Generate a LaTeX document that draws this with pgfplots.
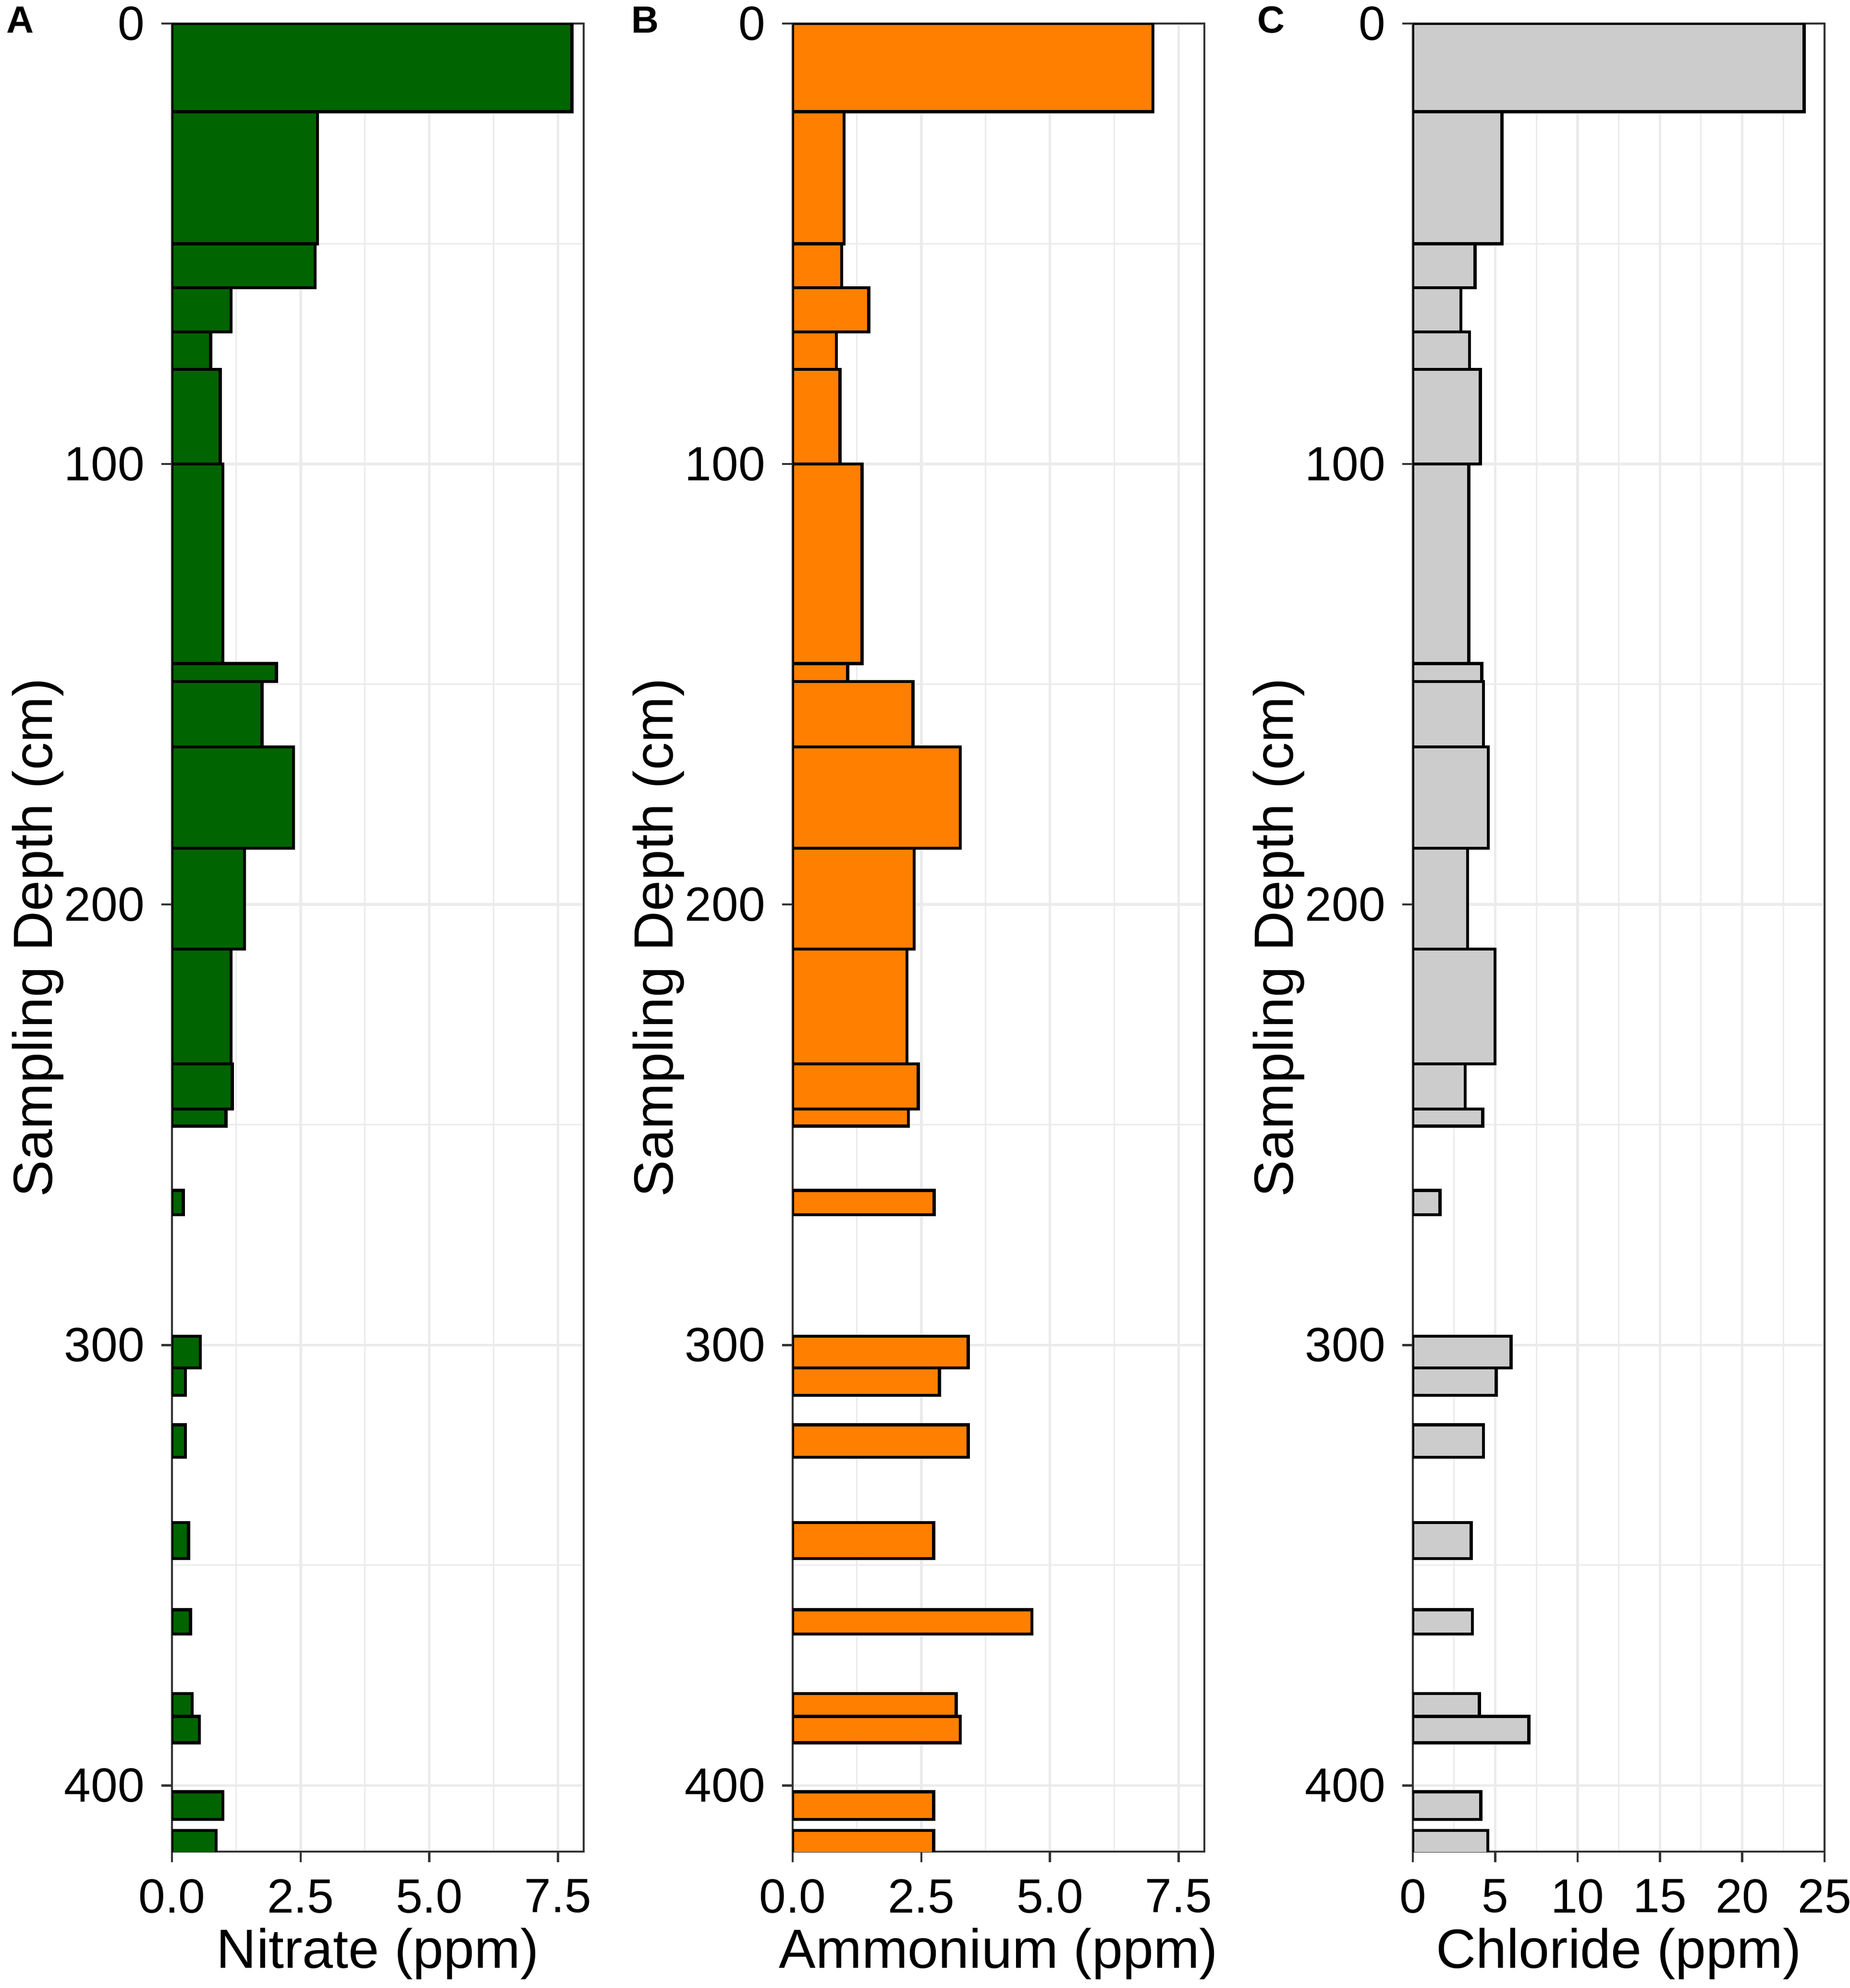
\documentclass[border=0pt]{standalone}
\usepackage{pgfplots}
\pgfplotsset{compat=1.18}
\usepackage{fontspec}
\setmainfont{Liberation Sans}
\definecolor{nitfill}{HTML}{006400}
\definecolor{ammfill}{HTML}{FF7F00}
\definecolor{chlfill}{HTML}{CCCCCC}
\definecolor{gridc}{HTML}{EBEBEB}
\definecolor{framec}{HTML}{333333}

\pgfplotsset{
  depthaxis/.style={
    scale only axis, width=85.7pt, height=380.6pt,
    anchor=south west,
    y dir=reverse, ymin=0, ymax=415, xmin=0,
    ytick={0,100,200,300,400}, minor ytick={50,150,250,350},
    grid=both,
    major grid style={gridc, line width=0.55pt},
    minor grid style={gridc, line width=0.3pt},
    axis line style={framec, line width=0.45pt},
    tick align=outside, major tick length=2.2pt, minor tick length=0pt,
    major tick style={framec, line width=0.45pt},
    xtick pos=bottom, ytick pos=left,
    tick label style={font=\fontsize{10}{12}\selectfont, text=black},
    /pgf/number format/assume math mode=true,
    label style={font=\fontsize{11.5}{13.5}\selectfont},
    ylabel={Sampling Depth (cm)},
    ylabel style={at={(axis description cs:-0.2917,0.5)}, anchor=base},
    xlabel style={at={(axis description cs:0.5,-0.0636)}, anchor=base},
    clip=true,
  },
  nbar/.style={fill=nitfill, draw=black, line width=0.65pt},
  abar/.style={fill=ammfill, draw=black, line width=0.65pt},
  cbar/.style={fill=chlfill, draw=black, line width=0.65pt},
}

\begin{document}
\begin{tikzpicture}
\useasboundingbox (0pt,0pt) rectangle (385pt,413.9pt);

\begin{axis}[depthaxis, at={(35.8pt,28.4pt)}, xmax=8,
  xtick={0,2.5,5,7.5}, xticklabels={0.0,2.5,5.0,7.5}, minor xtick={1.25,3.75,6.25},
  xlabel={Nitrate (ppm)}]
\addplot[nbar] coordinates {(0,0) (7.77,0) (7.77,20) (0,20)} --cycle;
\addplot[nbar] coordinates {(0,20) (2.83,20) (2.83,50) (0,50)} --cycle;
\addplot[nbar] coordinates {(0,50) (2.78,50) (2.78,60) (0,60)} --cycle;
\addplot[nbar] coordinates {(0,60) (1.15,60) (1.15,70) (0,70)} --cycle;
\addplot[nbar] coordinates {(0,70) (0.75,70) (0.75,78.5) (0,78.5)} --cycle;
\addplot[nbar] coordinates {(0,78.5) (0.94,78.5) (0.94,100) (0,100)} --cycle;
\addplot[nbar] coordinates {(0,100) (0.99,100) (0.99,145.3) (0,145.3)} --cycle;
\addplot[nbar] coordinates {(0,145.3) (2.03,145.3) (2.03,149.4) (0,149.4)} --cycle;
\addplot[nbar] coordinates {(0,149.4) (1.75,149.4) (1.75,164.2) (0,164.2)} --cycle;
\addplot[nbar] coordinates {(0,164.2) (2.36,164.2) (2.36,187.2) (0,187.2)} --cycle;
\addplot[nbar] coordinates {(0,187.2) (1.41,187.2) (1.41,210.1) (0,210.1)} --cycle;
\addplot[nbar] coordinates {(0,210.1) (1.15,210.1) (1.15,236.2) (0,236.2)} --cycle;
\addplot[nbar] coordinates {(0,236.2) (1.17,236.2) (1.17,246.4) (0,246.4)} --cycle;
\addplot[nbar] coordinates {(0,246.4) (1.05,246.4) (1.05,250.3) (0,250.3)} --cycle;
\addplot[nbar] coordinates {(0,264.9) (0.22,264.9) (0.22,270.4) (0,270.4)} --cycle;
\addplot[nbar] coordinates {(0,298.0) (0.55,298.0) (0.55,305.2) (0,305.2)} --cycle;
\addplot[nbar] coordinates {(0,305.2) (0.26,305.2) (0.26,311.4) (0,311.4)} --cycle;
\addplot[nbar] coordinates {(0,318.1) (0.26,318.1) (0.26,325.5) (0,325.5)} --cycle;
\addplot[nbar] coordinates {(0,340.3) (0.32,340.3) (0.32,348.5) (0,348.5)} --cycle;
\addplot[nbar] coordinates {(0,360.1) (0.36,360.1) (0.36,365.6) (0,365.6)} --cycle;
\addplot[nbar] coordinates {(0,379.1) (0.39,379.1) (0.39,384.3) (0,384.3)} --cycle;
\addplot[nbar] coordinates {(0,384.3) (0.53,384.3) (0.53,390.3) (0,390.3)} --cycle;
\addplot[nbar] coordinates {(0,401.4) (0.99,401.4) (0.99,407.7) (0,407.7)} --cycle;
\addplot[nbar] coordinates {(0,410.2) (0.86,410.2) (0.86,416) (0,416)} --cycle;
\end{axis}

\begin{axis}[depthaxis, at={(165.0pt,28.4pt)}, xmax=8,
  xtick={0,2.5,5,7.5}, xticklabels={0.0,2.5,5.0,7.5}, minor xtick={1.25,3.75,6.25},
  xlabel={Ammonium (ppm)}]
\addplot[abar] coordinates {(0,0) (7.00,0) (7.00,20) (0,20)} --cycle;
\addplot[abar] coordinates {(0,20) (1.00,20) (1.00,50) (0,50)} --cycle;
\addplot[abar] coordinates {(0,50) (0.95,50) (0.95,60) (0,60)} --cycle;
\addplot[abar] coordinates {(0,60) (1.48,60) (1.48,70) (0,70)} --cycle;
\addplot[abar] coordinates {(0,70) (0.85,70) (0.85,78.5) (0,78.5)} --cycle;
\addplot[abar] coordinates {(0,78.5) (0.92,78.5) (0.92,100) (0,100)} --cycle;
\addplot[abar] coordinates {(0,100) (1.35,100) (1.35,145.3) (0,145.3)} --cycle;
\addplot[abar] coordinates {(0,145.3) (1.07,145.3) (1.07,149.4) (0,149.4)} --cycle;
\addplot[abar] coordinates {(0,149.4) (2.34,149.4) (2.34,164.2) (0,164.2)} --cycle;
\addplot[abar] coordinates {(0,164.2) (3.26,164.2) (3.26,187.2) (0,187.2)} --cycle;
\addplot[abar] coordinates {(0,187.2) (2.36,187.2) (2.36,210.1) (0,210.1)} --cycle;
\addplot[abar] coordinates {(0,210.1) (2.22,210.1) (2.22,236.2) (0,236.2)} --cycle;
\addplot[abar] coordinates {(0,236.2) (2.44,236.2) (2.44,246.4) (0,246.4)} --cycle;
\addplot[abar] coordinates {(0,246.4) (2.25,246.4) (2.25,250.3) (0,250.3)} --cycle;
\addplot[abar] coordinates {(0,264.9) (2.75,264.9) (2.75,270.4) (0,270.4)} --cycle;
\addplot[abar] coordinates {(0,298.0) (3.41,298.0) (3.41,305.2) (0,305.2)} --cycle;
\addplot[abar] coordinates {(0,305.2) (2.85,305.2) (2.85,311.4) (0,311.4)} --cycle;
\addplot[abar] coordinates {(0,318.1) (3.41,318.1) (3.41,325.5) (0,325.5)} --cycle;
\addplot[abar] coordinates {(0,340.3) (2.74,340.3) (2.74,348.5) (0,348.5)} --cycle;
\addplot[abar] coordinates {(0,360.1) (4.65,360.1) (4.65,365.6) (0,365.6)} --cycle;
\addplot[abar] coordinates {(0,379.1) (3.18,379.1) (3.18,384.3) (0,384.3)} --cycle;
\addplot[abar] coordinates {(0,384.3) (3.26,384.3) (3.26,390.3) (0,390.3)} --cycle;
\addplot[abar] coordinates {(0,401.4) (2.74,401.4) (2.74,407.7) (0,407.7)} --cycle;
\addplot[abar] coordinates {(0,410.2) (2.74,410.2) (2.74,416) (0,416)} --cycle;
\end{axis}

\begin{axis}[depthaxis, at={(294.1pt,28.4pt)}, xmax=25,
  xtick={0,5,10,15,20,25}, xticklabels={0,5,10,15,20,25}, minor xtick={2.5,7.5,12.5,17.5,22.5},
  xlabel={Chloride (ppm)}]
\addplot[cbar] coordinates {(0,0) (23.76,0) (23.76,20) (0,20)} --cycle;
\addplot[cbar] coordinates {(0,20) (5.41,20) (5.41,50) (0,50)} --cycle;
\addplot[cbar] coordinates {(0,50) (3.78,50) (3.78,60) (0,60)} --cycle;
\addplot[cbar] coordinates {(0,60) (2.91,60) (2.91,70) (0,70)} --cycle;
\addplot[cbar] coordinates {(0,70) (3.44,70) (3.44,78.5) (0,78.5)} --cycle;
\addplot[cbar] coordinates {(0,78.5) (4.10,78.5) (4.10,100) (0,100)} --cycle;
\addplot[cbar] coordinates {(0,100) (3.39,100) (3.39,145.3) (0,145.3)} --cycle;
\addplot[cbar] coordinates {(0,145.3) (4.19,145.3) (4.19,149.4) (0,149.4)} --cycle;
\addplot[cbar] coordinates {(0,149.4) (4.29,149.4) (4.29,164.2) (0,164.2)} --cycle;
\addplot[cbar] coordinates {(0,164.2) (4.58,164.2) (4.58,187.2) (0,187.2)} --cycle;
\addplot[cbar] coordinates {(0,187.2) (3.32,187.2) (3.32,210.1) (0,210.1)} --cycle;
\addplot[cbar] coordinates {(0,210.1) (4.99,210.1) (4.99,236.2) (0,236.2)} --cycle;
\addplot[cbar] coordinates {(0,236.2) (3.18,236.2) (3.18,246.4) (0,246.4)} --cycle;
\addplot[cbar] coordinates {(0,246.4) (4.24,246.4) (4.24,250.3) (0,250.3)} --cycle;
\addplot[cbar] coordinates {(0,264.9) (1.65,264.9) (1.65,270.4) (0,270.4)} --cycle;
\addplot[cbar] coordinates {(0,298.0) (5.96,298.0) (5.96,305.2) (0,305.2)} --cycle;
\addplot[cbar] coordinates {(0,305.2) (5.06,305.2) (5.06,311.4) (0,311.4)} --cycle;
\addplot[cbar] coordinates {(0,318.1) (4.29,318.1) (4.29,325.5) (0,325.5)} --cycle;
\addplot[cbar] coordinates {(0,340.3) (3.54,340.3) (3.54,348.5) (0,348.5)} --cycle;
\addplot[cbar] coordinates {(0,360.1) (3.61,360.1) (3.61,365.6) (0,365.6)} --cycle;
\addplot[cbar] coordinates {(0,379.1) (4.04,379.1) (4.04,384.3) (0,384.3)} --cycle;
\addplot[cbar] coordinates {(0,384.3) (7.05,384.3) (7.05,390.3) (0,390.3)} --cycle;
\addplot[cbar] coordinates {(0,401.4) (4.12,401.4) (4.12,407.7) (0,407.7)} --cycle;
\addplot[cbar] coordinates {(0,410.2) (4.55,410.2) (4.55,416) (0,416)} --cycle;
\end{axis}

\node[anchor=base west, inner sep=0pt, font=\fontsize{7.9}{9}\selectfont\bfseries] at (1.17pt,407.07pt) {A};
\node[anchor=base west, inner sep=0pt, font=\fontsize{7.9}{9}\selectfont\bfseries] at (131.2pt,407.07pt) {B};
\node[anchor=base west, inner sep=0pt, font=\fontsize{7.9}{9}\selectfont\bfseries] at (261.5pt,407.07pt) {C};
\end{tikzpicture}
\end{document}
